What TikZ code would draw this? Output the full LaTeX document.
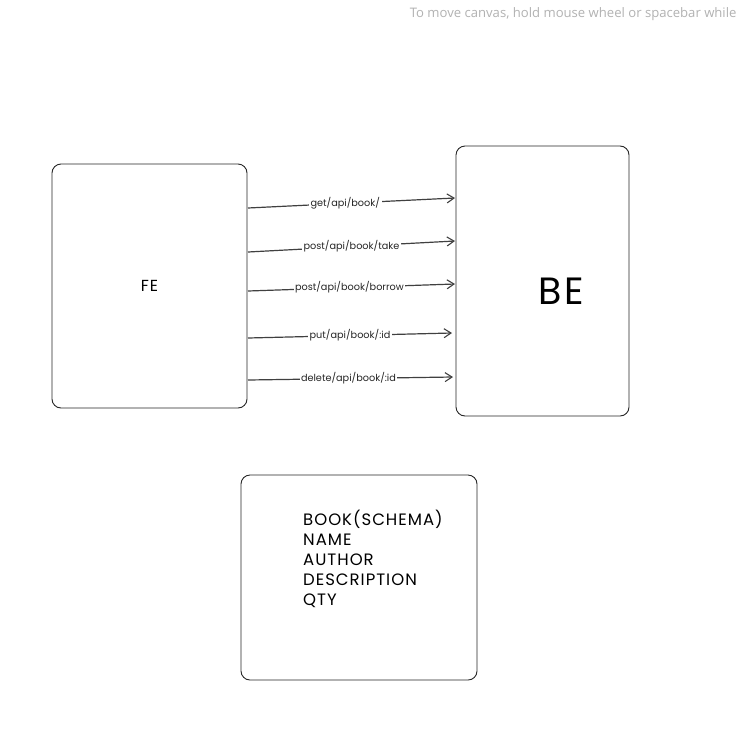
\documentclass[tikz,border=0pt]{standalone}
\usepackage{fontspec}
\setmainfont{Poppins}
\newfontfamily\uifont{Open Sans}
\newfontfamily\wide[LetterSpace=6]{Poppins}
\usetikzlibrary{arrows.meta}
\begin{document}
\begin{tikzpicture}[x=1pt,y=-1pt,
  box/.style={draw=black!85,line width=0.9pt,rounded corners=9pt,inner sep=0pt},
  conn/.style={draw=black!75,line width=1.2pt,-{Straight Barb[length=7pt,width=9pt,line width=1.1pt]}},
  lbl/.style={fill=white,inner sep=1.5pt,font=\fontsize{9.7}{10}\selectfont,text=black!85},
]
\useasboundingbox (0,0) rectangle (741,734);
\fill[white] (0,0) rectangle (741,734);
\node[anchor=east,text=black!30,font=\uifont\fontsize{13.1}{14}\selectfont] (hint) at (740,14) {To move canvas, hold mouse wheel or spacebar while};

\node[box,minimum width=195pt,minimum height=244pt,font=\wide\fontsize{16}{18}\selectfont] (fe) at (149.5,286) {FE};
\node[box,minimum width=173pt,minimum height=270pt] (be) at (542.5,281) {};
\node[font=\wide\fontsize{38}{40}\selectfont] (betext) at (561,291) {BE};
\node[box,minimum width=236pt,minimum height=205pt] (schema) at (359,577.5) {};
\node[anchor=north west,align=left,inner sep=0pt,font=\wide\fontsize{16.5}{20}\selectfont] (schematext) at (303,510)
 {BOOK(SCHEMA)\\NAME\\AUTHOR\\DESCRIPTION\\QTY};

\coordinate (s1) at (248,208); \coordinate (e1) at (455,198);
\coordinate (s2) at (248,252); \coordinate (e2) at (455,241);
\coordinate (s3) at (248,291); \coordinate (e3) at (455,284);
\coordinate (s4) at (248,338); \coordinate (e4) at (452,333);
\coordinate (s5) at (248,380); \coordinate (e5) at (453,377);

\draw[conn] (s1) -- node[lbl,pos=0.47] (l1) {get/api/book/} (e1);
\draw[conn] (s2) -- node[lbl,pos=0.5] (l2) {post/api/book/take} (e2);
\draw[conn] (s3) -- node[lbl,pos=0.49] (l3) {post/api/book/borrow} (e3);
\draw[conn] (s4) -- node[lbl,pos=0.5] (l4) {put/api/book/:id} (e4);
\draw[conn] (s5) -- node[lbl,pos=0.49] (l5) {delete/api/book/:id} (e5);
\end{tikzpicture}
\end{document}
